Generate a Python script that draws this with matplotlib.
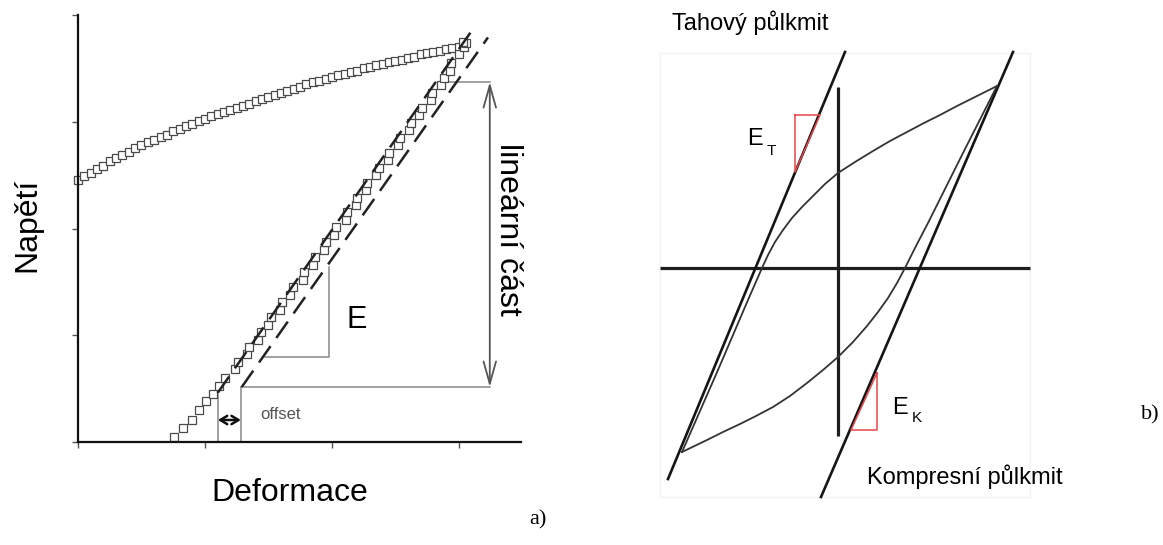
"""Offset yield construction (a) and tension/compression hysteresis sketch (b)."""

import matplotlib

matplotlib.use("Agg")
import matplotlib.pyplot as plt
from matplotlib.patches import Rectangle

plt.rcParams["font.family"] = ["Liberation Sans", "DejaVu Sans"]

FIG_W, FIG_H = 1163, 545

# ---- panel a: measured points, in tick units (strain, stress) ----
LOAD_STRAIN = [
    0.76, 0.83, 0.90, 0.95, 1.01, 1.06, 1.11, 1.16,
    1.24, 1.26, 1.33, 1.35, 1.42, 1.44, 1.50, 1.52, 1.59, 1.61,
    1.67, 1.69, 1.77, 1.78, 1.85, 1.87, 1.94, 1.95, 2.02, 2.03,
    2.11, 2.12, 2.19, 2.20, 2.27, 2.28, 2.35, 2.37, 2.44, 2.45,
    2.52, 2.54, 2.61, 2.62, 2.69, 2.71, 2.78, 2.79, 2.86, 2.88,
    2.93, 2.94, 3.00, 3.04, 3.06, 3.03,
]
LOAD_STRESS = [
    0.05, 0.13, 0.21, 0.30, 0.38, 0.45, 0.52, 0.60,
    0.68, 0.75, 0.82, 0.89, 0.96, 1.03, 1.10, 1.17, 1.24, 1.31,
    1.38, 1.45, 1.52, 1.59, 1.66, 1.73, 1.80, 1.87, 1.94, 2.01,
    2.08, 2.15, 2.22, 2.29, 2.36, 2.43, 2.50, 2.57, 2.64, 2.71,
    2.78, 2.85, 2.92, 2.99, 3.06, 3.13, 3.20, 3.27, 3.34, 3.41,
    3.48, 3.55, 3.63, 3.70, 3.74, 3.75,
]
UPPER_STRAIN = [
    0.00, 0.05, 0.10, 0.15, 0.20, 0.25, 0.30, 0.35, 0.40, 0.45,
    0.50, 0.55, 0.60, 0.65, 0.70, 0.75, 0.80, 0.85, 0.90, 0.95,
    1.00, 1.05, 1.10, 1.15, 1.20, 1.25, 1.30, 1.35, 1.40, 1.45,
    1.50, 1.55, 1.60, 1.65, 1.70, 1.75, 1.80, 1.85, 1.90, 1.95,
    2.00, 2.05, 2.10, 2.15, 2.20, 2.25, 2.30, 2.35, 2.40, 2.45,
    2.50, 2.55, 2.60, 2.65, 2.70, 2.75, 2.80, 2.85, 2.90, 2.95,
    3.00,
]
UPPER_STRESS = [
    2.45, 2.49, 2.52, 2.56, 2.59, 2.63, 2.66, 2.69, 2.72, 2.75,
    2.78, 2.81, 2.83, 2.86, 2.88, 2.91, 2.93, 2.96, 2.98, 3.01,
    3.03, 3.05, 3.07, 3.09, 3.11, 3.13, 3.15, 3.17, 3.19, 3.21,
    3.23, 3.25, 3.27, 3.29, 3.31, 3.33, 3.35, 3.37, 3.38, 3.40,
    3.42, 3.44, 3.45, 3.47, 3.48, 3.50, 3.51, 3.53, 3.54, 3.56,
    3.57, 3.58, 3.60, 3.61, 3.63, 3.64, 3.65, 3.66, 3.68, 3.69,
    3.70,
]

# parallel elastic lines (start, end) and the offset between them
ELASTIC_LEFT = ([1.10, 3.13], [0.46, 3.90])
ELASTIC_RIGHT = ([1.29, 3.23], [0.515, 3.79])
OFFSET_X = [1.102, 1.283]
OFFSET_TOP = [0.44, 0.515]
LINEAR_TOP = 3.372
LINEAR_BOTTOM = 0.515
LINEAR_TOP_START = 2.874
LINEAR_X = 3.244
SLOPE_TRI_X = [1.47, 1.976, 1.976]
SLOPE_TRI_Y = [0.796, 0.796, 1.639]

X_TICKS = [0, 1, 2, 3]
Y_TICKS = [0, 1, 2, 3, 4]

# ---- panel b: hysteresis loop, centred on the origin ----
UPPER_BRANCH_X = [-1.56, -1.20, -0.90, -0.76, -0.70, -0.63, -0.55, -0.46,
                  -0.36, -0.25, -0.13, 0.00, 0.17, 0.35, 0.52, 0.69,
                  0.86, 1.02, 1.19, 1.35, 1.59]
UPPER_BRANCH_Y = [-1.84, -1.02, -0.32, 0.00, 0.13, 0.26, 0.38, 0.50,
                  0.61, 0.72, 0.84, 0.95, 1.06, 1.17, 1.27, 1.36,
                  1.45, 1.53, 1.62, 1.70, 1.82]
LOWER_BRANCH_X = [1.59, 1.25, 0.90, 0.78, 0.67, 0.59, 0.50, 0.40, 0.29,
                  0.15, 0.00, -0.15, -0.31, -0.48, -0.65, -0.82, -0.98,
                  -1.15, -1.31, -1.56]
LOWER_BRANCH_Y = [1.82, 1.15, 0.45, 0.22, 0.00, -0.15, -0.30, -0.44, -0.58,
                  -0.74, -0.89, -1.02, -1.15, -1.28, -1.39, -1.48, -1.56,
                  -1.64, -1.72, -1.84]
TENSION_LINE_X = [-1.70, 0.07]
TENSION_LINE_Y = [-2.11, 2.16]
COMPRESSION_LINE_X = [-0.17, 1.75]
COMPRESSION_LINE_Y = [-2.29, 2.16]
ET_TRI_X = [-0.43, -0.18, -0.43, -0.43]
ET_TRI_Y = [1.53, 1.53, 0.96, 1.53]
EK_TRI_X = [0.39, 0.39, 0.13, 0.39]
EK_TRI_Y = [-1.05, -1.62, -1.62, -1.05]


def fig_xy(x_px, y_px):
    """Pixel position (from the top-left corner) to figure fraction."""
    return x_px / FIG_W, 1 - y_px / FIG_H


def draw_offset_panel(ax):
    ax.set_xlim(0, 3.49)
    ax.set_ylim(0, 4)
    for side in ("top", "right"):
        ax.spines[side].set_visible(False)
    for side in ("left", "bottom"):
        ax.spines[side].set_linewidth(1.6)
        ax.spines[side].set_color("#111111")
    ax.set_xticks(X_TICKS)
    ax.set_yticks(Y_TICKS)
    ax.set_xticklabels([])
    ax.set_yticklabels([])
    ax.tick_params(direction="out", length=4, width=1, color="#555555")

    marker_kw = dict(ls="none", marker="s", ms=6.3, mfc="white", mec="#4a4a4a", mew=0.9)
    ax.plot(UPPER_STRAIN, UPPER_STRESS, clip_on=False, zorder=2, **marker_kw)
    ax.plot(LOAD_STRAIN, LOAD_STRESS, clip_on=False, zorder=2, **marker_kw)

    dash_kw = dict(color="#222222", lw=1.8, dashes=(8, 4), zorder=3)
    ax.plot(*ELASTIC_LEFT, **dash_kw)
    ax.plot(*ELASTIC_RIGHT, **dash_kw)

    thin = dict(color="#888888", lw=1.1, zorder=1)
    ax.plot(SLOPE_TRI_X, SLOPE_TRI_Y, **thin)
    for x, top in zip(OFFSET_X, OFFSET_TOP):
        ax.plot([x, x], [0, top], **thin)
    ax.plot([OFFSET_X[1], LINEAR_X], [LINEAR_BOTTOM, LINEAR_BOTTOM], **thin)
    ax.plot([LINEAR_TOP_START, LINEAR_X], [LINEAR_TOP, LINEAR_TOP], **thin)

    ax.annotate("", xy=(LINEAR_X, LINEAR_TOP), xytext=(LINEAR_X, LINEAR_BOTTOM),
                arrowprops=dict(arrowstyle="<->,head_length=1.6,head_width=0.45",
                                color="#555555", lw=1.3, shrinkA=0, shrinkB=0))
    ax.annotate("", xy=(OFFSET_X[0], 0.206), xytext=(OFFSET_X[1], 0.206),
                arrowprops=dict(arrowstyle="<->,head_length=0.5,head_width=0.3",
                                color="#111111", lw=1.8, shrinkA=0, shrinkB=0))

    ax.text(1.433, 0.253, "offset", fontsize=12, color="#555555", va="center")
    ax.text(2.118, 1.068, "E", fontsize=22, va="baseline")
    ax.text(3.386, 1.995, "lineární část", fontsize=23, rotation=-90,
            ha="center", va="center", clip_on=False)


def draw_loop_panel(ax):
    ax.set_xlim(-1.98, 2.22)
    ax.set_ylim(-2.42, 2.28)
    ax.axis("off")

    ax.add_patch(Rectangle((-1.78, -2.29), 3.70, 4.44, fill=False,
                           ec="#f2f2f2", lw=1))
    axis_kw = dict(color="#1e1e1e", lw=2.3, solid_capstyle="butt")
    ax.plot([-1.78, 1.92], [0, 0], **axis_kw)
    ax.plot([0, 0], [-1.68, 1.81], **axis_kw)

    line_kw = dict(color="#151515", lw=1.9)
    ax.plot(TENSION_LINE_X, TENSION_LINE_Y, **line_kw)
    ax.plot(COMPRESSION_LINE_X, COMPRESSION_LINE_Y, **line_kw)

    loop_kw = dict(color="#333333", lw=1.3, solid_joinstyle="round")
    ax.plot(UPPER_BRANCH_X, UPPER_BRANCH_Y, **loop_kw)
    ax.plot(LOWER_BRANCH_X, LOWER_BRANCH_Y, **loop_kw)

    red = dict(color="#e8474a", lw=1.1)
    ax.plot(ET_TRI_X, ET_TRI_Y, **red)
    ax.plot(EK_TRI_X, EK_TRI_Y, **red)

    ax.text(-0.91, 1.23, "E", fontsize=17, va="baseline")
    ax.text(-0.71, 1.13, "T", fontsize=11, va="baseline")
    ax.text(0.54, -1.46, "E", fontsize=17, va="baseline")
    ax.text(0.74, -1.54, "K", fontsize=11, va="baseline")


fig = plt.figure(figsize=(FIG_W / 100, FIG_H / 100), dpi=100)
ax_a = fig.add_axes([78 / FIG_W, 103 / FIG_H, 443 / FIG_W, 427 / FIG_H])
ax_b = fig.add_axes([640 / FIG_W, 35 / FIG_H, 420 / FIG_W, 470 / FIG_H])

draw_offset_panel(ax_a)
draw_loop_panel(ax_b)

fig.text(*fig_xy(290, 493), "Deformace", fontsize=23, ha="center", va="center")
fig.text(*fig_xy(27, 225), "Napětí", fontsize=23, rotation=90, ha="center", va="center")
fig.text(*fig_xy(672, 23), "Tahový půlkmit", fontsize=17, va="center")
fig.text(*fig_xy(867, 477), "Kompresní půlkmit", fontsize=17, va="center")
fig.text(*fig_xy(538, 520), "a)", fontsize=16, family="Liberation Serif",
         ha="center", va="center")
fig.text(*fig_xy(1150, 415), "b)", fontsize=16, family="Liberation Serif",
         ha="center", va="center")

fig.savefig("out.png", dpi=100)
